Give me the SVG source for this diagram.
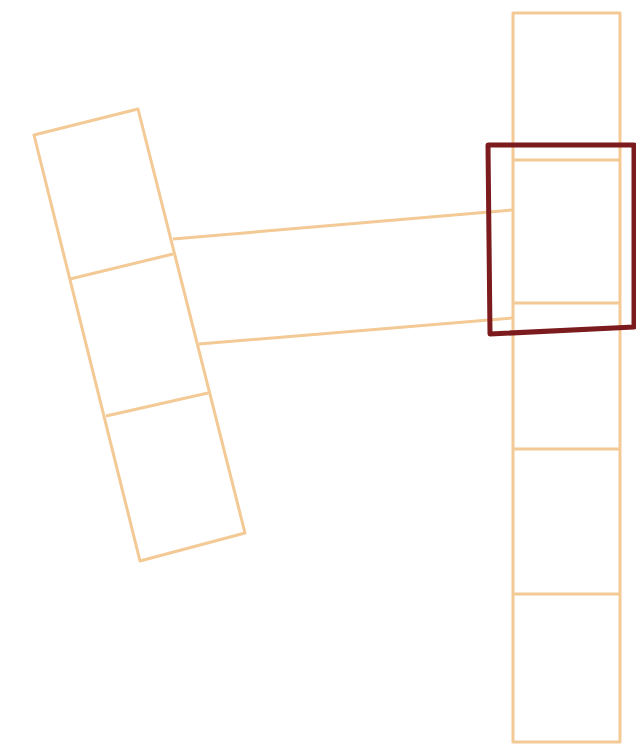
<svg xmlns="http://www.w3.org/2000/svg" width="636" height="747" viewBox="0 0 636 747">
<style>
.tan{fill:none;stroke:#f3c995;stroke-width:3;stroke-linejoin:round}
.hl{fill:none;stroke:#7b1b1d;stroke-width:5;stroke-linejoin:round}
</style>
<rect width="636" height="747" fill="#ffffff"/>
<g id="left-column">
<polygon class="tan" points="34,135 138,109 245,533 140,561"/>
<line class="tan" x1="70" y1="279" x2="173" y2="254"/>
<line class="tan" x1="106" y1="416" x2="208" y2="393"/>
</g>
<g id="right-column">
<rect class="tan" x="513" y="13" width="107" height="729"/>
<line class="tan" x1="513" y1="160" x2="620" y2="160"/>
<line class="tan" x1="513" y1="303" x2="620" y2="303"/>
<line class="tan" x1="513" y1="449" x2="620" y2="449"/>
<line class="tan" x1="513" y1="594" x2="620" y2="594"/>
</g>
<g id="connectors">
<line class="tan" x1="173" y1="239" x2="512" y2="210"/>
<line class="tan" x1="199" y1="344" x2="512" y2="318"/>
</g>
<g id="highlight">
<polygon class="hl" points="488,145 634,145 634,327 490,334"/>
</g>
</svg>
